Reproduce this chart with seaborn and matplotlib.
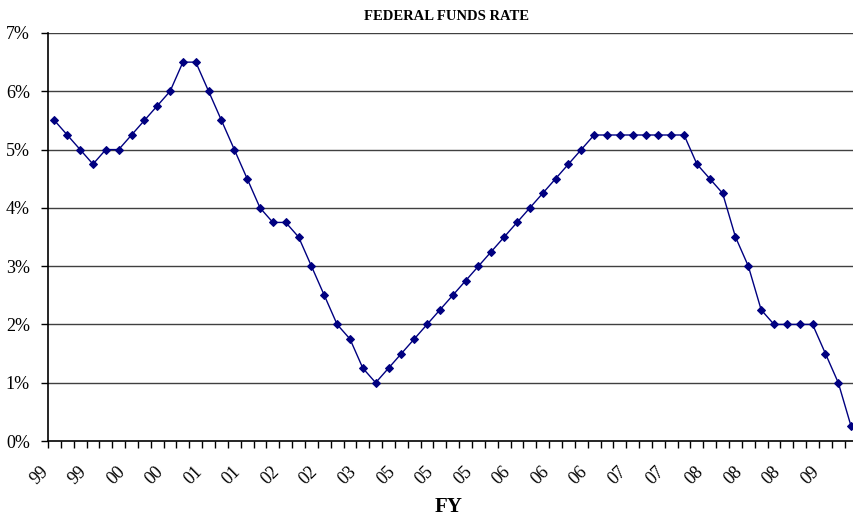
import numpy as np
import pandas as pd
import matplotlib
matplotlib.use("Agg")
import matplotlib.pyplot as plt
import matplotlib.transforms as mtransforms
import seaborn as sns

# Federal funds target rate (%), one value per reporting period
rates = [5.5, 5.25, 5.0, 4.75, 5.0, 5.0, 5.25, 5.5, 5.75, 6.0, 6.5, 6.5,
         6.0, 5.5, 5.0, 4.5, 4.0, 3.75, 3.75, 3.5, 3.0, 2.5, 2.0, 1.75,
         1.25, 1.0, 1.25, 1.5, 1.75, 2.0, 2.25, 2.5, 2.75, 3.0, 3.25, 3.5,
         3.75, 4.0, 4.25, 4.5, 4.75, 5.0, 5.25, 5.25, 5.25, 5.25, 5.25, 5.25,
         5.25, 5.25, 4.75, 4.5, 4.25, 3.5, 3.0, 2.25, 2.0, 2.0, 2.0, 2.0,
         1.5, 1.0, 0.25]

# Fiscal-year labels shown on every third period
fy_labels = ["99", "99", "00", "00", "01", "01", "02", "02", "03", "05", "05",
             "05", "06", "06", "06", "07", "07", "08", "08", "08", "09"]
label_step = 3

y_ticks = [0, 1, 2, 3, 4, 5, 6, 7]

df = pd.DataFrame({"period": np.arange(len(rates)), "rate": rates})

sns.set_theme(style="white")
plt.rcParams["font.family"] = ["Liberation Serif", "DejaVu Serif"]
plt.rcParams["text.color"] = "black"
plt.rcParams["xtick.color"] = "black"
plt.rcParams["ytick.color"] = "black"
plt.rcParams["axes.labelcolor"] = "black"

W, H = 854, 519
fig = plt.figure(figsize=(W / 100, H / 100), dpi=100)
n = len(rates)
step_px = 12.85
left_px, top_px, bottom_px = 48, 33, 441
right_px = left_px + n * step_px
ax = fig.add_axes([left_px / W, 1 - bottom_px / H,
                   (right_px - left_px) / W, (bottom_px - top_px) / H])

navy = "#000080"
sns.lineplot(data=df, x="period", y="rate", ax=ax, color=navy, lw=1.0,
             marker="D", markersize=4, markeredgecolor=navy,
             markerfacecolor=navy)

ax.set_xlim(-0.5, n - 0.5)
ax.set_ylim(0, 7)
ax.set_yticks(y_ticks)
ax.set_yticklabels([f"{v}%" for v in y_ticks], fontsize=13, color="black")
for v in y_ticks[1:]:
    ax.axhline(v, color="#404040", lw=1.0, zorder=0)

# category boundaries carry the tick marks; labels sit on every third period
ax.set_xticks(np.arange(-0.5, n, 1.0), minor=True)
ax.set_xticks(np.arange(0, n, label_step)[:len(fy_labels)])
ax.set_xticklabels(fy_labels, fontsize=13, rotation=45, ha="right",
                   va="center", rotation_mode="anchor", color="black")
ax.tick_params(axis="x", which="major", length=0, pad=20)
ax.tick_params(axis="x", which="minor", length=5, width=1, color="black",
               direction="out", bottom=True)
ax.tick_params(axis="y", length=5, width=1, color="black", direction="out",
               left=True, pad=8)
offset = mtransforms.ScaledTranslation(-0.09, 0, fig.dpi_scale_trans)
for lbl in ax.get_xticklabels():
    lbl.set_transform(lbl.get_transform() + offset)

for side in ["top", "right"]:
    ax.spines[side].set_visible(False)
for side in ["left", "bottom"]:
    ax.spines[side].set_color("black")
    ax.spines[side].set_linewidth(1.2)

ax.set_xlabel("")
ax.set_ylabel("")

fig.text(447 / W, 1 - 16 / H, "FEDERAL FUNDS RATE", ha="center",
         va="center", fontsize=10.5, fontweight="bold", color="black")
fig.text(449 / W, 1 - 507 / H, "FY", ha="center", va="center",
         fontsize=15, fontweight="bold", color="black")

fig.savefig("out.png", dpi=100)
